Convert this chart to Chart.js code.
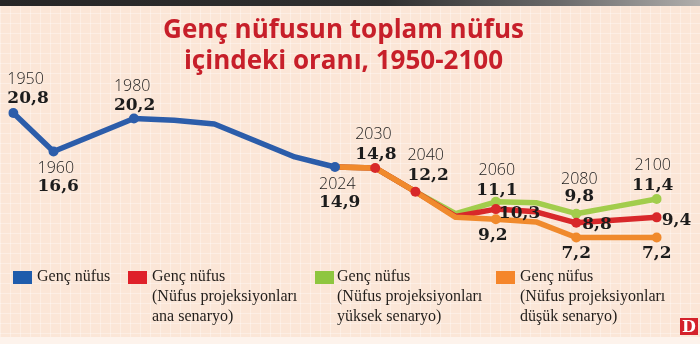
<!DOCTYPE html>
<html>
<head>
<meta charset="utf-8">
<script src="https://cdn.jsdelivr.net/npm/chart.js@4.4.1/dist/chart.umd.min.js"></script>
<style>
  html, body { margin: 0; padding: 0; }
  body {
    width: 700px; height: 344px; overflow: hidden; position: relative;
    background-color: #fbe6d7;
  }
  #paper {
    position: absolute; left: 0; top: 0; width: 700px; height: 344px;
    background-image:
      repeating-linear-gradient(0deg, rgba(255,255,255,0.32) 0 1px, transparent 1px 10px),
      repeating-linear-gradient(90deg, rgba(255,255,255,0.32) 0 1px, transparent 1px 10px);
  }
  #edge {
    position: absolute; left: 0; top: 0; width: 700px; height: 6px;
    background: linear-gradient(90deg, #262626 0%, #2f2f2f 55%, #6a6a6a 80%, #b0aeac 100%);
  }
  #foot { position: absolute; left: 0; top: 337px; width: 700px; height: 7px; background: #fdf3ec; }
  #logo {
    position: absolute; left: 680px; top: 318px; width: 18px; height: 17px;
    background: #d4212b; color: #fff; text-align: center;
    font: 700 16px "DejaVu Serif"; line-height: 17px;
  }
  canvas { position: absolute; left: 0; top: 0; }
</style>
</head>
<body>
<div id="paper"></div>
<div id="edge"></div>
<div id="foot"></div>
<canvas id="chart" width="700" height="344"></canvas>
<div id="logo">D</div>
<script>
// Share of young population in total population (%), observed and projected
const years = ['1950','1960','1970','1980','1990','2000','2010','2020','2024',
               '2030','2040','2050','2060','2070','2080','2090','2100'];
const youthShare   = [20.8, 16.6, 18.4, 20.2, 20.0, 19.6, 17.8, 16.0, 14.9,
                      null, null, null, null, null, null, null, null];
const mainScenario = [null, null, null, null, null, null, null, null, 14.9,
                      14.8, 12.2, 9.5, 10.3, 10.0, 8.8, 9.1, 9.4];
const highScenario = [null, null, null, null, null, null, null, null, 14.9,
                      14.8, 12.2, 9.8, 11.1, 11.0, 9.8, 10.6, 11.4];
const lowScenario  = [null, null, null, null, null, null, null, null, 14.9,
                      14.8, 12.2, 9.4, 9.2, 8.9, 7.2, 7.2, 7.2];

const titleLines = ['Genç nüfusun toplam nüfus', 'içindeki oranı, 1950-2100'];
const legendLabels = [
  ['Genç nüfus'],
  ['Genç nüfus', '(Nüfus projeksiyonları', 'ana senaryo)'],
  ['Genç nüfus', '(Nüfus projeksiyonları', 'yüksek senaryo)'],
  ['Genç nüfus', '(Nüfus projeksiyonları', 'düşük senaryo)']
];

const COLORS = { blue: '#2c5daa', red: '#d8282a', green: '#a2cd4c', orange: '#f08a2d' };
const SWATCH = ['#1f5cac', '#df2029', '#8ec63f', '#f5862b'];

// which points carry a dot
const dotsObserved = [0, 1, 3, 8];
const dotsMainTop  = [9, 10];
const dotsProj     = [12, 14, 16];

// callout placement relative to each point
const callouts = [
  { s: 'obs',  i: 0,  align: 'left',   dx: -6,  yearDy: -29,   valDy: -10 },
  { s: 'obs',  i: 1,  align: 'left',   dx: -16, yearDy: 21.5,  valDy: 40 },
  { s: 'obs',  i: 3,  align: 'left',   dx: -20, yearDy: -27.5, valDy: -9 },
  { s: 'obs',  i: 8,  align: 'left',   dx: -16, yearDy: 21.5,  valDy: 40 },
  { s: 'main', i: 9,  align: 'left',   dx: -20, yearDy: -28.5, valDy: -9 },
  { s: 'main', i: 10, align: 'left',   dx: -8,  yearDy: -31.5, valDy: -12 },
  { s: 'high', i: 12, align: 'center', dx: 1,   yearDy: -27,   valDy: -7 },
  { s: 'main', i: 12, align: 'left',   dx: 3,   valDy: 9 },
  { s: 'low',  i: 12, align: 'center', dx: -3,  valDy: 21 },
  { s: 'high', i: 14, align: 'center', dx: 3,   yearDy: -30,   valDy: -13 },
  { s: 'main', i: 14, align: 'left',   dx: 6,   valDy: 6 },
  { s: 'low',  i: 14, align: 'center', dx: 0,   valDy: 21 },
  { s: 'high', i: 16, align: 'center', dx: -4,  yearDy: -29,   valDy: -9 },
  { s: 'main', i: 16, align: 'left',   dx: 5,   valDy: 8 },
  { s: 'low',  i: 16, align: 'center', dx: 0,   valDy: 21 }
];
const seriesIndex = { obs: 0, main: 3, high: 4, low: 2 };

const fmt = v => v.toFixed(1).replace('.', ',');
const radiusAt = list => ctx => list.includes(ctx.dataIndex) ? 5 : 0;

const overlay = {
  id: 'overlay',
  afterDatasetsDraw(chart) {
    const ctx = chart.ctx;
    ctx.save();
    // title, sized to span its block width
    ctx.fillStyle = '#c71f2a';
    ctx.font = '700 25px "Open Sans"';
    const size = Math.min(27, 25 * 361 / ctx.measureText(titleLines[0]).width);
    ctx.font = `700 ${size.toFixed(2)}px "Open Sans"`;
    ctx.textAlign = 'center';
    ctx.textBaseline = 'alphabetic';
    ctx.fillText(titleLines[0], 343.5, 37.5);
    ctx.fillText(titleLines[1], 343.5, 68.5);

    // callouts
    callouts.forEach(c => {
      const ds = chart.data.datasets[seriesIndex[c.s]];
      const pt = chart.getDatasetMeta(seriesIndex[c.s]).data[c.i];
      const x = pt.x + c.dx;
      ctx.textAlign = c.align;
      ctx.fillStyle = '#1c1c1c';
      if (c.yearDy !== undefined) {
        ctx.font = '300 16px "Open Sans"';
        ctx.fillText(years[c.i], x, pt.y + c.yearDy);
      }
      ctx.font = '700 17px "DejaVu Serif"';
      ctx.fillText(fmt(ds.data[c.i]), x, pt.y + c.valDy);
    });

    // legend
    const swX = [13, 128, 315, 496];
    const txX = [37, 152, 337, 520];
    ctx.textAlign = 'left';
    legendLabels.forEach((lines, k) => {
      ctx.fillStyle = SWATCH[k];
      ctx.fillRect(swX[k], 271, 19, 13);
      ctx.fillStyle = '#221e1b';
      ctx.font = '16px "Liberation Serif"';
      lines.forEach((t, j) => ctx.fillText(t, txX[k], 281 + j * 20));
    });
    ctx.restore();
  }
};

new Chart(document.getElementById('chart'), {
  type: 'line',
  data: {
    labels: years,
    datasets: [
      { label: 'Genç nüfus', data: youthShare, borderColor: COLORS.blue,
        pointBackgroundColor: COLORS.blue, pointRadius: radiusAt(dotsObserved), order: 0 },
      { label: 'ana senaryo (noktalar)', data: mainScenario, showLine: false,
        pointBackgroundColor: COLORS.red, pointRadius: radiusAt(dotsMainTop), order: 1 },
      { label: 'düşük senaryo', data: lowScenario, borderColor: COLORS.orange,
        pointBackgroundColor: COLORS.orange, pointRadius: radiusAt(dotsProj), order: 2 },
      { label: 'ana senaryo', data: mainScenario, borderColor: COLORS.red,
        pointBackgroundColor: COLORS.red, pointRadius: radiusAt(dotsProj), order: 3 },
      { label: 'yüksek senaryo', data: highScenario, borderColor: COLORS.green,
        pointBackgroundColor: COLORS.green, pointRadius: radiusAt(dotsProj), order: 4 }
    ]
  },
  options: {
    responsive: false,
    animation: false,
    layout: { padding: { left: 13.3, right: 43.3, top: 92.9, bottom: 86.4 } },
    elements: {
      line: { borderWidth: 5.5, tension: 0, borderJoinStyle: 'round', borderCapStyle: 'round' },
      point: { borderWidth: 0, hoverRadius: 5 }
    },
    scales: {
      x: { type: 'category', display: false, offset: false },
      y: { display: false, min: 5, max: 23 }
    },
    plugins: { legend: { display: false }, tooltip: { enabled: false } }
  },
  plugins: [overlay]
});
</script>
</body>
</html>
